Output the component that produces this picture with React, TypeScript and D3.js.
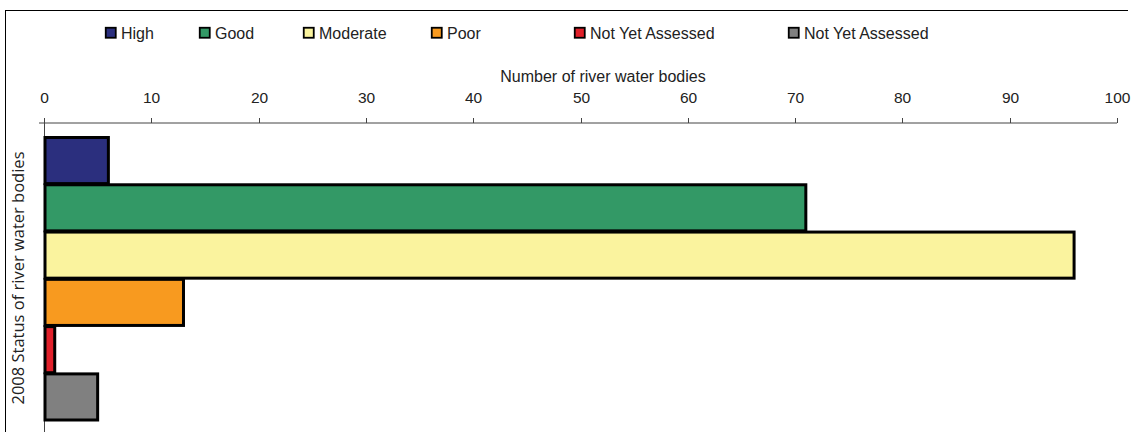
import React from 'react'
import { scaleLinear, scaleBand } from 'd3'

const categories = ['High', 'Good', 'Moderate', 'Poor', 'Not Yet Assessed', 'Not Yet Assessed ']
const labels = ['High', 'Good', 'Moderate', 'Poor', 'Not Yet Assessed', 'Not Yet Assessed']
const values = [6, 71, 96, 13, 1, 5]
const colors = ['#2b2f7e', '#339966', '#faf39e', '#f89a1f', '#e0202a', '#808080']
const xTicks = [0, 10, 20, 30, 40, 50, 60, 70, 80, 90, 100]
const legendX = [105, 199, 303, 431, 574, 788]

const App = () => {
  const width = 1133
  const height = 432
  const font = '"Liberation Sans", Arimo, Helvetica, sans-serif'

  const xScale = scaleLinear().domain([0, 100]).range([44, 1117])
  const yScale = scaleBand().domain(categories).range([137.5, 420]).paddingInner(0.025)
  const axisY = 123

  return (
    <svg width={width} height={height} style={{ position: 'absolute', left: 0, top: 0, background: '#fff' }}>
      {/* frame */}
      <line x1={5} x2={1128} y1={10.5} y2={10.5} stroke='#000' strokeWidth={1} />
      <line x1={5.5} x2={5.5} y1={10} y2={height} stroke='#000' strokeWidth={1} />

      {/* legend */}
      {labels.map((d, i) => (
        <g key={i} transform={`translate(${legendX[i]},27)`}>
          <rect x={0.75} y={0.75} width={10} height={10} fill={colors[i]} stroke='#000' strokeWidth={1.8} />
          <text x={16} y={12} fontFamily={font} fontSize={16} fill='#222'>{d}</text>
        </g>
      ))}

      {/* axis title */}
      <text x={603} y={82} textAnchor='middle' fontFamily={font} fontSize={16} fill='#222'>
        Number of river water bodies
      </text>

      {/* x axis */}
      <line x1={39} x2={xScale(100)} y1={axisY} y2={axisY} stroke='#444' strokeWidth={1} />
      {xTicks.map(t => (
        <g key={t} transform={`translate(${Math.round(xScale(t)) + 0.5},0)`}>
          <line y1={axisY - 5} y2={axisY} stroke='#444' strokeWidth={1} />
          <text y={103} textAnchor='middle' fontFamily={font} fontSize={15.5} fill='#222'>{t}</text>
        </g>
      ))}
      <line x1={44.5} x2={44.5} y1={axisY - 5} y2={height} stroke='#444' strokeWidth={1} />

      {/* bars */}
      {categories.map((c, i) => (
        <rect
          key={c}
          x={xScale(0) + 1}
          y={yScale(c)}
          width={xScale(values[i]) - xScale(0) - 1}
          height={yScale.bandwidth()}
          fill={colors[i]}
          stroke='#000'
          strokeWidth={3}
        />
      ))}

      {/* y axis title */}
      <text
        transform='translate(24,278) rotate(-90)'
        textAnchor='middle'
        fontFamily='"Open Sans", "Noto Sans", sans-serif'
        fontSize={16.5}
        fill='#222'
      >
        2008 Status of river water bodies
      </text>
    </svg>
  )
}

export default App
